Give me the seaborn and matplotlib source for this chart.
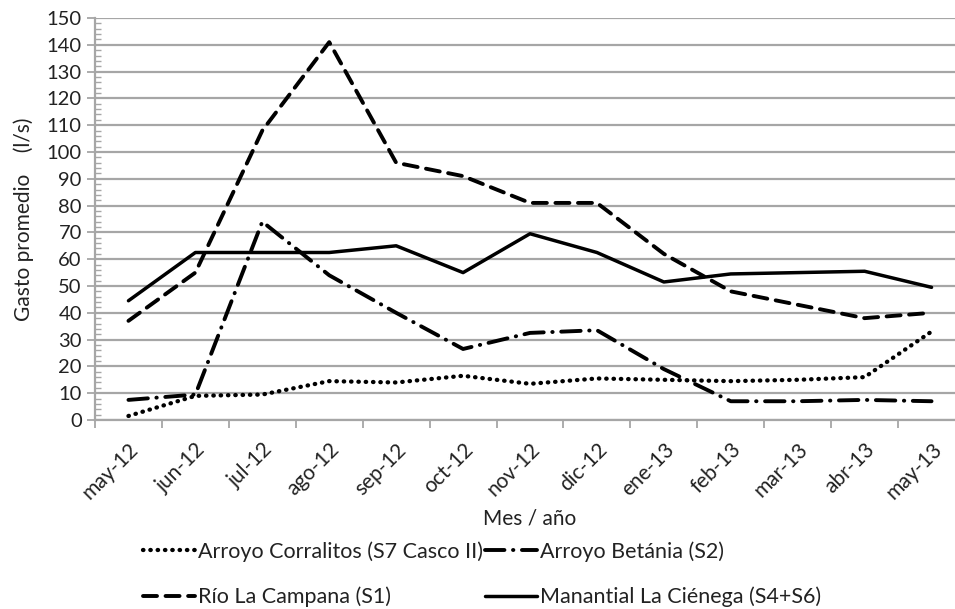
import matplotlib
matplotlib.use("Agg")
import matplotlib.pyplot as plt
import seaborn as sns
import pandas as pd
from matplotlib.ticker import MultipleLocator, FixedLocator

# data
meses = ["may-12", "jun-12", "jul-12", "ago-12", "sep-12", "oct-12", "nov-12",
         "dic-12", "ene-13", "feb-13", "mar-13", "abr-13", "may-13"]
corralitos = [1.5, 9, 9.5, 14.5, 14, 16.5, 13.5, 15.5, 15, 14.5, 15, 16, 33]
betania = [7.5, 9.5, 74, 54, 40, 26.5, 32.5, 33.5, 19, 7, 7, 7.5, 7]
campana = [37, 55, 108, 141, 96, 91, 81, 81, 62, 48, 43, 38, 40]
cienega = [44.5, 62.5, 62.5, 62.5, 65, 55, 69.5, 62.5, 51.5, 54.5, 55, 55.5, 49.5]

nombres = ["Arroyo Corralitos (S7 Casco II)", "Arroyo Betánia (S2)",
           "Río La Campana (S1)", "Manantial La Ciénega (S4+S6)"]
series = [corralitos, betania, campana, cienega]

df = pd.concat([pd.DataFrame({"mes": meses, "gasto": v, "serie": n})
                for n, v in zip(nombres, series)], ignore_index=True)

sns.set_style("white")
# Lato ~ Calibri
plt.rcParams['font.family'] = ['Lato', 'DejaVu Sans']
txt = "#222222"
grey = "#a6a6a6"

fig = plt.figure(figsize=(9.55, 6.09), dpi=100)
ax = fig.add_axes([95/955, 1-420/609, 870/955, 402/609])

dashes = {nombres[0]: (0.1, 1.6), nombres[1]: (5, 2.2, 0.1, 2.2),
          nombres[2]: (3.6, 2.2), nombres[3]: ""}
sns.lineplot(data=df, x="mes", y="gasto", hue="serie", style="serie",
             palette=["black"]*4, dashes=dashes, linewidth=2.8, ax=ax,
             legend=False, sort=False)

lines = ax.get_lines()[:4]
for ln in lines:
    ln.set_dash_capstyle("round")
lines[0].set_linewidth(3.1)
lines[3].set_linewidth(2.5)

ax.set_xlim(-0.5, 12.5)
ax.set_ylim(0, 150)
ax.yaxis.set_major_locator(MultipleLocator(10))
ax.yaxis.set_minor_locator(MultipleLocator(2))
ax.grid(axis="y", color=grey, linewidth=1.6, zorder=0)
ax.set_axisbelow(True)
for s in ["top", "right"]:
    ax.spines[s].set_visible(False)
for s in ["left", "bottom"]:
    ax.spines[s].set_color(grey)
    ax.spines[s].set_linewidth(1.6)

ax.set_xticks(range(len(meses)))
ax.set_xticklabels(meses, rotation=45, ha="right", rotation_mode="anchor",
                   fontsize=15, color=txt)
ax.xaxis.set_minor_locator(FixedLocator([i - 0.5 for i in range(len(meses) + 1)]))
ax.tick_params(axis="x", which="major", length=0, pad=14)
ax.tick_params(axis="x", which="minor", length=6, color=grey, width=1.3, direction="out")
ax.tick_params(axis="y", which="major", length=6, color=grey, width=1.3,
               direction="out", labelsize=14.5, labelcolor=txt)
ax.tick_params(axis="y", which="minor", length=4, color=grey, width=1, direction="in")
ax.tick_params(axis="both", bottom=True, left=True, which="both")

ax.set_xlabel("Mes / año", fontsize=15, color=txt, labelpad=4)
ax.set_ylabel("Gasto promedio    (l/s)", fontsize=15, color=txt, labelpad=9)

orden = [lines[0], lines[2], lines[1], lines[3]]
fig.legend(orden, [nombres[0], nombres[2], nombres[1], nombres[3]],
           loc="upper center", bbox_to_anchor=(0.505, 0.143), ncol=2,
           frameon=False, fontsize=15.5, handlelength=2.4, handletextpad=0.15,
           columnspacing=0.1, labelspacing=1.15, labelcolor=txt)

fig.savefig("out.png", dpi=100)
